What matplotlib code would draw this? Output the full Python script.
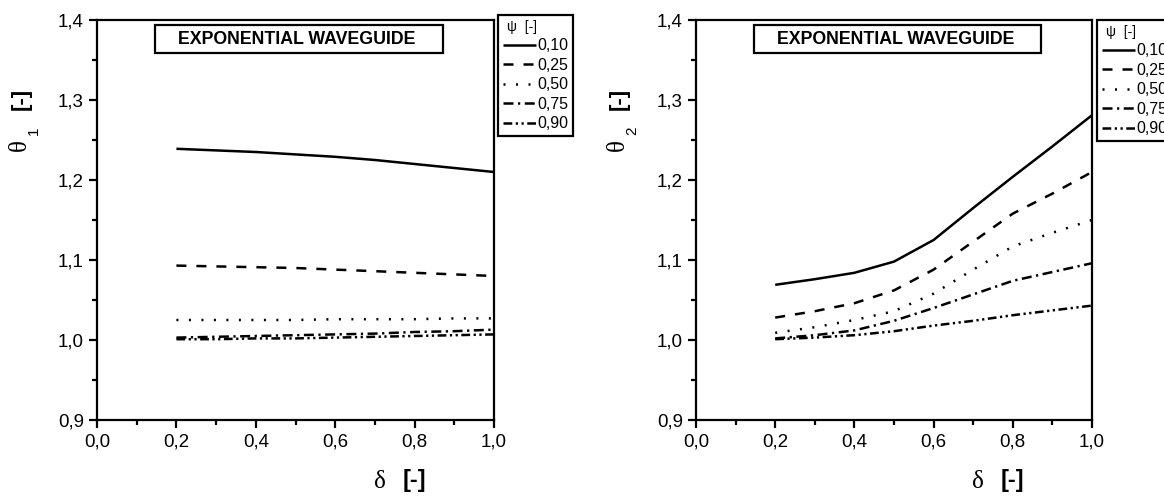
import matplotlib
matplotlib.use("Agg")
import matplotlib.pyplot as plt
from matplotlib.patches import Rectangle

# ---------------- data ----------------
delta = [0.2, 0.3, 0.4, 0.5, 0.6, 0.7, 0.8, 0.9, 1.0]
psi_labels = ["0,10", "0,25", "0,50", "0,75", "0,90"]

theta1_010 = [1.239, 1.237, 1.235, 1.232, 1.229, 1.225, 1.220, 1.215, 1.210]
theta1_025 = [1.093, 1.092, 1.091, 1.090, 1.088, 1.086, 1.084, 1.082, 1.080]
theta1_050 = [1.025, 1.025, 1.025, 1.025, 1.026, 1.026, 1.026, 1.027, 1.027]
theta1_075 = [1.003, 1.004, 1.005, 1.006, 1.007, 1.008, 1.010, 1.011, 1.013]
theta1_090 = [1.001, 1.001, 1.002, 1.002, 1.003, 1.004, 1.005, 1.006, 1.007]

theta2_010 = [1.069, 1.076, 1.084, 1.098, 1.125, 1.165, 1.204, 1.242, 1.281]
theta2_025 = [1.028, 1.036, 1.046, 1.062, 1.088, 1.123, 1.158, 1.183, 1.210]
theta2_050 = [1.009, 1.016, 1.025, 1.036, 1.058, 1.088, 1.117, 1.134, 1.150]
theta2_075 = [1.002, 1.006, 1.012, 1.024, 1.040, 1.057, 1.074, 1.085, 1.096]
theta2_090 = [1.001, 1.003, 1.006, 1.011, 1.018, 1.024, 1.031, 1.037, 1.043]

xticks = [0.0, 0.2, 0.4, 0.6, 0.8, 1.0]
xticklabels = ["0,0", "0,2", "0,4", "0,6", "0,8", "1,0"]
yticks = [0.9, 1.0, 1.1, 1.2, 1.3, 1.4]
yticklabels = ["0,9", "1,0", "1,1", "1,2", "1,3", "1,4"]
title_text = "EXPONENTIAL WAVEGUIDE"

# ---------------- style ----------------
W, H = 1164, 499
fig = plt.figure(figsize=(W / 100, H / 100), dpi=100)
plt.rcParams['font.family'] = ['Liberation Sans', 'DejaVu Sans']

styles = [
    dict(linestyle='-'),
    dict(linestyle=(0, (4, 4))),
    dict(linestyle=(0, (0.8, 4.2))),
    dict(linestyle=(0, (4, 1.8, 0.9, 1.8))),
    dict(linestyle=(0, (3.5, 1.4, 0.9, 1.4, 0.9, 1.4))),
]
LW = 1.8


def px_axes(x0, x1, y0, y1):
    return fig.add_axes([x0 / W, 1 - y1 / H, (x1 - x0) / W, (y1 - y0) / H])


def setup(ax, series):
    lines = []
    for s, st, lab in zip(series, styles, psi_labels):
        ln, = ax.plot(delta, s, color='black', lw=LW, label=lab,
                      solid_capstyle='butt', dash_capstyle='butt', **st)
        lines.append(ln)
    ax.set_xlim(0, 1.0)
    ax.set_ylim(0.9, 1.4)
    ax.set_xticks(xticks)
    ax.set_xticklabels(xticklabels)
    ax.set_yticks(yticks)
    ax.set_yticklabels(yticklabels)
    ax.set_xticks([0.1, 0.3, 0.5, 0.7, 0.9], minor=True)
    ax.set_yticks([0.95, 1.05, 1.15, 1.25, 1.35], minor=True)
    ax.tick_params(which='major', direction='out', length=6, width=1.6,
                   labelsize=13.5, pad=3.5)
    ax.tick_params(which='minor', direction='out', length=3.5, width=1.6)
    for sp in ax.spines.values():
        sp.set_linewidth(1.6)
    # title box
    ax.add_patch(Rectangle((0.146, 0.9175), 0.7255, 0.07, transform=ax.transAxes,
                           fill=False, lw=1.6, edgecolor='black', zorder=5))
    ax.text(0.504, 0.9525, title_text, transform=ax.transAxes, ha='center',
            va='center', fontsize=12.8, fontweight='bold', zorder=6)
    # axis label
    ax.text(0.712, -0.155, "δ", transform=ax.transAxes, ha='center', va='center',
            fontsize=18, family=['Liberation Serif', 'DejaVu Serif'])
    ax.text(0.8, -0.152, "[-]", transform=ax.transAxes, ha='center', va='center',
            fontsize=17, fontweight='bold')
    return lines


ax1 = px_axes(97, 494, 20, 420)
ax2 = px_axes(696, 1092, 20, 420)

l1 = setup(ax1, [theta1_010, theta1_025, theta1_050, theta1_075, theta1_090])
l2 = setup(ax2, [theta2_010, theta2_025, theta2_050, theta2_075, theta2_090])

# y labels
for xoff, sub in [(0, "1"), (598, "2")]:
    fig.text((20 + xoff) / W, 1 - 145 / H, "θ", rotation=90, ha='center', va='center',
             fontsize=18, family=['Liberation Serif', 'DejaVu Serif'])
    fig.text((34 + xoff) / W, 1 - 131 / H, sub, rotation=90, ha='center', va='center',
             fontsize=11)
    fig.text((21 + xoff) / W, 1 - 99 / H, "[-]", rotation=90, ha='center', va='center',
             fontsize=16, fontweight='bold')

# legends
for ax, lines, (lx, ly) in [(ax1, l1, (498, 15)), (ax2, l2, (1097, 20))]:
    leg = fig.legend(handles=lines, labels=psi_labels, loc='upper left',
                     bbox_to_anchor=(lx / W, 1 - ly / H),
                     bbox_transform=fig.transFigure, fontsize=11.5,
                     title="ψ  [-]", title_fontsize=10, alignment='left',
                     handlelength=2.1, handletextpad=0.05, labelspacing=0.28,
                     borderpad=0.3, borderaxespad=0, fancybox=False,
                     framealpha=1, edgecolor='black')
    leg.get_frame().set_linewidth(1.6)
    leg.get_title().set_position((4, 0))

fig.savefig("out.png", dpi=100)
